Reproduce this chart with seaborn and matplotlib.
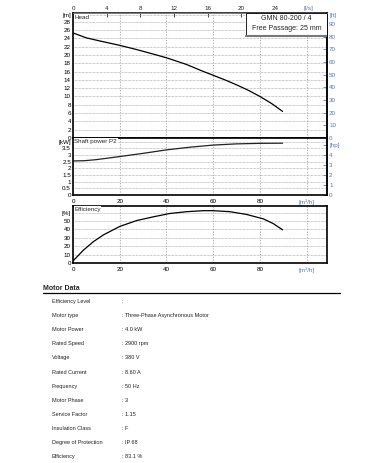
import numpy as np
import pandas as pd
import matplotlib
matplotlib.use("Agg")
import matplotlib.pyplot as plt
import seaborn as sns
from matplotlib.patches import Rectangle

# Curve data (flow in m3/h)
head_flow = [0, 5.8, 12, 20.1, 27.2, 34.4, 40.1, 48.6, 55, 60, 65, 70, 75, 80, 85, 89.7]
head_m = [25.3, 24.1, 23.3, 22.3, 21.3, 20.2, 19.3, 17.7, 16.2, 15.1, 14.0, 12.8, 11.5, 10.0, 8.3, 6.4]

power_flow = [0, 5, 10, 20, 30, 40, 50, 60, 70, 80, 89.7]
power_kw = [2.55, 2.57, 2.65, 2.88, 3.12, 3.38, 3.58, 3.74, 3.83, 3.87, 3.88]

eff_flow = [0.2, 4.4, 8.7, 13, 20.1, 27.2, 34.4, 41.5, 48.6, 55.7, 60, 67.2, 74.3, 81.4, 85.7, 89.7]
eff_pct = [3.0, 15.2, 25.4, 33.5, 43.7, 50.6, 55.1, 59.1, 61.2, 62.4, 62.4, 61.2, 57.9, 52.7, 47.0, 39.6]

motor_labels = ["Efficiency Level", "Motor type", "Motor Power", "Rated Speed", "Voltage",
                "Rated Current", "Frequency", "Motor Phase", "Service Factor",
                "Insulation Class", "Degree of Protection", "Efficiency"]
motor_values = [":", ": Three-Phase Asynchronous Motor", ": 4.0 kW", ": 2900 rpm", ": 380 V",
                ": 8.60 A", ": 50 Hz", ": 3", ": 1.15", ": F", ": IP 68", ": 83.1 %"]

sns.set_theme(style="white")
plt.rcParams["font.family"] = ["Liberation Sans", "DejaVu Sans"]

W, H = 379, 463
fig = plt.figure(figsize=(W / 100, H / 100), dpi=100)

def rect(left, top, right, bottom):
    return [left / W, 1 - bottom / H, (right - left) / W, (bottom - top) / H]

XMAX = 108.7
BLUE = "#5577bb"
FS = 4.5

ax_h = fig.add_axes(rect(73, 13, 327, 138))
ax_p = fig.add_axes(rect(73, 138, 327, 195))
ax_e = fig.add_axes(rect(73, 206, 327, 263))

def style(ax, ymax, yticks, ylabels, label):
    ax.set_xlim(0, XMAX)
    ax.set_ylim(0, ymax)
    ax.set_xticks([0, 20, 40, 60, 80, 100])
    ax.set_xticks([10, 30, 50, 70, 90], minor=True)
    ax.set_yticks(yticks)
    ax.set_yticklabels(ylabels)
    for t, lab in zip(ax.get_yticklabels(), ylabels):
        if lab.startswith("["):
            t.set_color(BLUE)
    ax.tick_params(axis="both", which="both", direction="in", length=3, width=0.6,
                   labelsize=FS, pad=1.5, colors="black")
    ax.grid(True, axis="y", color="#999999", linestyle=(0, (1, 1)), linewidth=0.5)
    ax.grid(True, axis="x", color="#999999", linestyle=(0, (2, 2)), linewidth=0.5)
    for s in ax.spines.values():
        s.set_color("black")
        s.set_linewidth(1.2)
    ax.set_xlabel("")
    ax.set_ylabel("")
    ax.text(0.005, 0.985, label, transform=ax.transAxes, fontsize=FS, va="top", ha="left",
            bbox=dict(facecolor="white", edgecolor="none", pad=0.5), zorder=5)

# Head
df_h = pd.DataFrame({"flow": head_flow, "head": head_m})
sns.lineplot(data=df_h, x="flow", y="head", ax=ax_h, color="black", linewidth=0.9)
style(ax_h, 30.1, list(range(0, 29, 2)) + [29.6],
      [str(v) for v in range(0, 29, 2)] + ["[m]"], "Head")
ax_h.tick_params(axis="x", which="both", labelbottom=False)
ax_h.spines["top"].set_linewidth(0.6)
ax_h.spines["top"].set_color("#888888")
top = ax_h.secondary_xaxis("top", functions=(lambda q: q / 3.6, lambda q: q * 3.6))
top.set_xticks([0, 4, 8, 12, 16, 20, 24, 28])
top.set_xticklabels(["0", "4", "8", "12", "16", "20", "24", "[l/s]"])
top.tick_params(direction="in", length=3, width=0.6, labelsize=FS, pad=1.5)
top.get_xticklabels()[-1].set_color(BLUE)
right = ax_h.secondary_yaxis("right", functions=(lambda m: m * 3.2808, lambda f: f / 3.2808))
right.set_yticks(list(range(0, 91, 10)) + [97.5])
right.set_yticklabels([str(v) for v in range(0, 91, 10)] + ["[ft]"])
right.tick_params(direction="in", length=3, width=0.6, labelsize=FS, pad=1.5, colors=BLUE)
right.spines["right"].set_linewidth(1.2)

# Model box
ax_h.add_patch(Rectangle((0.681, 0.816), 0.319, 0.184, transform=ax_h.transAxes,
                         facecolor="white", edgecolor="black", linewidth=0.6, zorder=6))
ax_h.plot([0.681, 1.0], [0.816, 0.816], transform=ax_h.transAxes, color="#777777",
          linewidth=1.5, zorder=7)
ax_h.text(0.84, 0.952, "GMN 80-200 / 4", transform=ax_h.transAxes, fontsize=5,
          ha="center", va="center", zorder=8)
ax_h.text(0.84, 0.872, "Free Passage: 25 mm", transform=ax_h.transAxes, fontsize=5,
          ha="center", va="center", zorder=8)

# Power
df_p = pd.DataFrame({"flow": power_flow, "power": power_kw})
sns.lineplot(data=df_p, x="flow", y="power", ax=ax_p, color="#222222", linewidth=0.9)
style(ax_p, 4.27, [0, 0.5, 1, 1.5, 2, 2.5, 3, 3.5, 4],
      ["0", "0.5", "1", "1.5", "2", "2.5", "3", "3.5", "[kW]"], "Shaft power P2")
ax_p.set_xticklabels(["0", "20", "40", "60", "80", "[m\u00b3/h]"])
ax_p.get_xticklabels()[-1].set_color(BLUE)
ax_p.tick_params(axis="x", pad=3)
right_p = ax_p.secondary_yaxis("right", functions=(lambda k: k * 1.341, lambda h: h / 1.341))
right_p.set_yticks([0, 1, 2, 3, 4, 5])
right_p.set_yticklabels(["0", "1", "2", "3", "4", "[hp]"])
right_p.tick_params(direction="in", length=3, width=0.6, labelsize=FS, pad=1.5, colors=BLUE)
right_p.spines["right"].set_linewidth(1.2)

# Efficiency
df_e = pd.DataFrame({"flow": eff_flow, "eff": eff_pct})
sns.lineplot(data=df_e, x="flow", y="eff", ax=ax_e, color="black", linewidth=0.9)
style(ax_e, 68, [0, 10, 20, 30, 40, 50, 60],
      ["0", "10", "20", "30", "40", "50", "[%]"], "Efficiency")
ax_e.set_xticklabels(["0", "20", "40", "60", "80", "[m\u00b3/h]"])
ax_e.get_xticklabels()[-1].set_color(BLUE)
ax_e.tick_params(axis="x", pad=3)

# Motor data table
fig.text(43 / W, 1 - 288 / H, "Motor Data", fontsize=5, fontweight="bold", va="center")
fig.add_artist(plt.Line2D([43 / W, 340 / W], [1 - 292.5 / H, 1 - 292.5 / H],
                          color="black", linewidth=0.9))
for i, (lab, val) in enumerate(zip(motor_labels, motor_values)):
    y = 1 - (301.5 + i * 14.1) / H
    fig.text(52 / W, y, lab, fontsize=4, va="center", color="#222222")
    fig.text(121.5 / W, y, val, fontsize=4, va="center", color="#222222")

fig.savefig("out.png", dpi=100)
